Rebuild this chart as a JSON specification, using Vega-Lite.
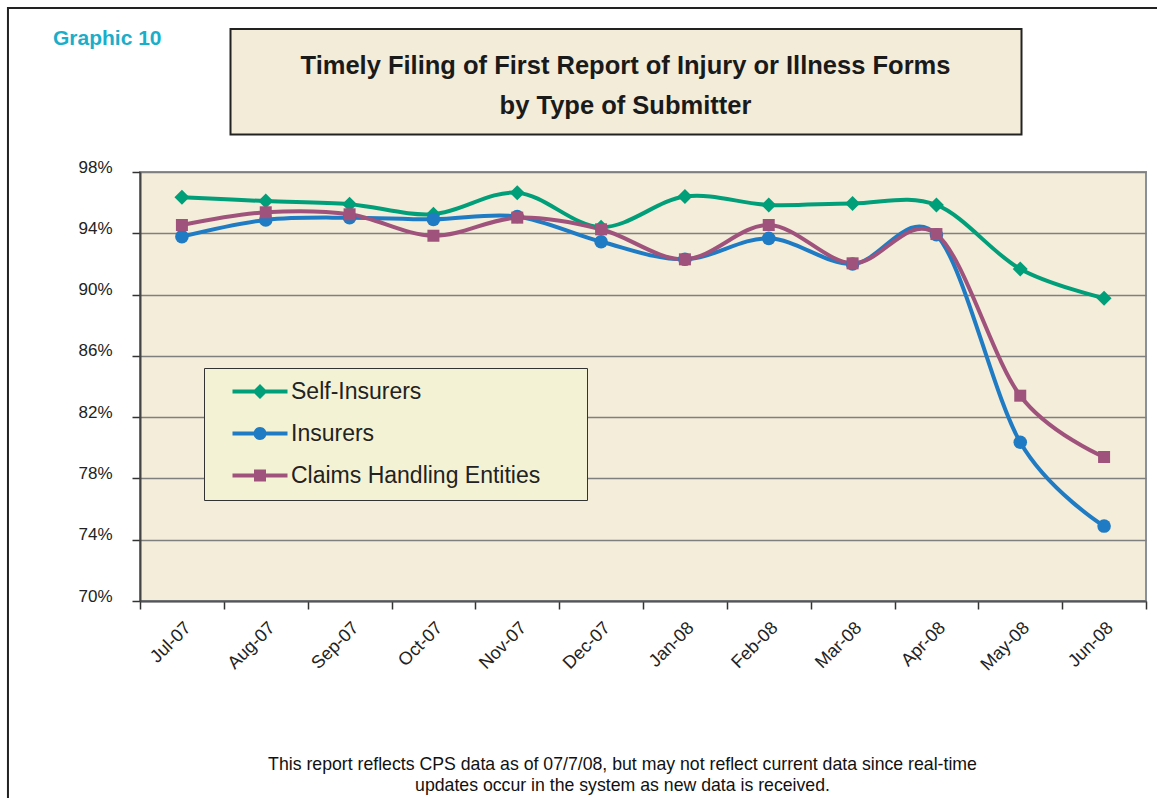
{
  "$schema": "https://vega.github.io/schema/vega-lite/v6.json",
  "width": 1006,
  "height": 429,
  "autosize": {"type": "none"},
  "padding": {"left": 140, "top": 172, "right": 11, "bottom": 197},
  "background": "white",
  "layer": [
    {
      "data": {"values": [{}]},
      "mark": {"type": "rect", "clip": false, "fill": null, "stroke": "#222222", "strokeWidth": 2},
      "encoding": {
        "x": {"datum": -2.075, "type": "quantitative", "scale": {"domain": [-0.5, 11.5], "nice": false, "zero": false}, "axis": null},
        "x2": {"datum": 13},
        "y": {"datum": 108.7, "type": "quantitative", "scale": {"domain": [70, 98], "nice": false, "zero": false}, "axis": null},
        "y2": {"datum": 40}
      }
    },
    {
      "data": {"values": [{}]},
      "mark": {"type": "rect", "clip": false, "fill": "#F3ECD8", "stroke": "#222222", "strokeWidth": 2},
      "encoding": {
        "x": {"datum": 0.5796, "type": "quantitative", "scale": {"domain": [-0.5, 11.5], "nice": false, "zero": false}, "axis": null},
        "x2": {"datum": 10.015},
        "y": {"datum": 107.33, "type": "quantitative", "scale": {"domain": [70, 98], "nice": false, "zero": false}, "axis": null},
        "y2": {"datum": 100.45}
      }
    },
    {
      "data": {"values": [{}]},
      "mark": {"type": "text", "clip": false, "text": ["Timely Filing of First Report of Injury or Illness Forms", "by Type of Submitter"], "font": "Liberation Sans", "fontSize": 25.5, "fontWeight": "bold", "color": "#1a1a1a", "align": "center", "baseline": "alphabetic", "lineHeight": 40},
      "encoding": {
        "x": {"datum": 5.291, "type": "quantitative", "scale": {"domain": [-0.5, 11.5], "nice": false, "zero": false}, "axis": null},
        "y": {"datum": 104.4, "type": "quantitative", "scale": {"domain": [70, 98], "nice": false, "zero": false}, "axis": null}
      }
    },
    {
      "data": {"values": [{}]},
      "mark": {"type": "text", "clip": false, "text": "Graphic 10", "font": "Liberation Sans", "fontSize": 21, "fontWeight": "bold", "color": "#1AAECB", "align": "left", "baseline": "alphabetic"},
      "encoding": {
        "x": {"datum": -1.538, "type": "quantitative", "scale": {"domain": [-0.5, 11.5], "nice": false, "zero": false}, "axis": null},
        "y": {"datum": 106.29, "type": "quantitative", "scale": {"domain": [70, 98], "nice": false, "zero": false}, "axis": null}
      }
    },
    {
      "data": {
        "values": [
          {"month": "Jul-07", "series": "Self-Insurers", "value": 96.35},
          {"month": "Aug-07", "series": "Self-Insurers", "value": 96.1},
          {"month": "Sep-07", "series": "Self-Insurers", "value": 95.9},
          {"month": "Oct-07", "series": "Self-Insurers", "value": 95.25},
          {"month": "Nov-07", "series": "Self-Insurers", "value": 96.65},
          {"month": "Dec-07", "series": "Self-Insurers", "value": 94.4},
          {"month": "Jan-08", "series": "Self-Insurers", "value": 96.4},
          {"month": "Feb-08", "series": "Self-Insurers", "value": 95.85},
          {"month": "Mar-08", "series": "Self-Insurers", "value": 95.95},
          {"month": "Apr-08", "series": "Self-Insurers", "value": 95.85},
          {"month": "May-08", "series": "Self-Insurers", "value": 91.67},
          {"month": "Jun-08", "series": "Self-Insurers", "value": 89.76},
          {"month": "Jul-07", "series": "Insurers", "value": 93.78},
          {"month": "Aug-07", "series": "Insurers", "value": 94.87},
          {"month": "Sep-07", "series": "Insurers", "value": 95.02},
          {"month": "Oct-07", "series": "Insurers", "value": 94.91},
          {"month": "Nov-07", "series": "Insurers", "value": 95.1},
          {"month": "Dec-07", "series": "Insurers", "value": 93.45},
          {"month": "Jan-08", "series": "Insurers", "value": 92.3},
          {"month": "Feb-08", "series": "Insurers", "value": 93.67},
          {"month": "Mar-08", "series": "Insurers", "value": 92.0},
          {"month": "Apr-08", "series": "Insurers", "value": 93.9},
          {"month": "May-08", "series": "Insurers", "value": 80.36},
          {"month": "Jun-08", "series": "Insurers", "value": 74.89},
          {"month": "Jul-07", "series": "Claims Handling Entities", "value": 94.54},
          {"month": "Aug-07", "series": "Claims Handling Entities", "value": 95.37},
          {"month": "Sep-07", "series": "Claims Handling Entities", "value": 95.24},
          {"month": "Oct-07", "series": "Claims Handling Entities", "value": 93.84},
          {"month": "Nov-07", "series": "Claims Handling Entities", "value": 95.02},
          {"month": "Dec-07", "series": "Claims Handling Entities", "value": 94.26},
          {"month": "Jan-08", "series": "Claims Handling Entities", "value": 92.3},
          {"month": "Feb-08", "series": "Claims Handling Entities", "value": 94.54},
          {"month": "Mar-08", "series": "Claims Handling Entities", "value": 92.04},
          {"month": "Apr-08", "series": "Claims Handling Entities", "value": 93.95},
          {"month": "May-08", "series": "Claims Handling Entities", "value": 83.4},
          {"month": "Jun-08", "series": "Claims Handling Entities", "value": 79.4}
        ]
      },
      "encoding": {
        "x": {
          "field": "month",
          "type": "ordinal",
          "sort": ["Jul-07", "Aug-07", "Sep-07", "Oct-07", "Nov-07", "Dec-07", "Jan-08", "Feb-08", "Mar-08", "Apr-08", "May-08", "Jun-08"],
          "bandPosition": 0.5,
          "scale": {"type": "band", "paddingInner": 0, "paddingOuter": 0},
          "axis": {
            "title": ["This report reflects CPS data as of 07/7/08, but may not reflect current data since real-time", "updates occur in the system as new data is received."],
            "titleFont": "Liberation Sans",
            "titleFontSize": 17.7,
            "titleFontWeight": "normal",
            "titleColor": "#111111",
            "titleX": 482,
            "titleY": 168,
            "titleAlign": "center",
            "titleAnchor": null,
            "titleBaseline": "alphabetic",
            "titleLineHeight": 21,
            "domainColor": "#555555",
            "domainWidth": 2,
            "tickColor": "#333333",
            "tickWidth": 1.5,
            "tickSize": 8,
            "tickBand": "extent",
            "labelAngle": -45,
            "labelAlign": "right",
            "labelBaseline": "middle",
            "labelFont": "Liberation Sans",
            "labelFontSize": 18,
            "labelColor": "#222222",
            "labelPadding": 16,
            "labelOffset": 6,
            "grid": false
          }
        },
        "y": {
          "field": "value",
          "type": "quantitative",
          "scale": {"domain": [70, 98], "nice": false, "zero": false},
          "axis": {
            "title": null,
            "values": [70, 74, 78, 82, 86, 90, 94, 98],
            "labelExpr": "datum.value + '%'",
            "labelFont": "Liberation Sans",
            "labelFontSize": 17,
            "labelColor": "#222222",
            "labelPadding": 20,
            "labelBaseline": "alphabetic",
            "tickSize": 8,
            "tickColor": "#333333",
            "tickWidth": 1.5,
            "domainColor": "#444444",
            "domainWidth": 2,
            "grid": true,
            "gridColor": "#7F7F7F",
            "gridWidth": 1.5
          }
        }
      },
      "layer": [
        {
          "mark": {"type": "line", "interpolate": "cardinal", "strokeWidth": 4},
          "encoding": {
            "color": {"field": "series", "type": "nominal", "scale": {"domain": ["Self-Insurers", "Insurers", "Claims Handling Entities"], "range": ["#009E79", "#1F7BC3", "#9F527B"]}, "legend": null}
          }
        },
        {
          "mark": {"type": "point", "filled": true, "opacity": 1},
          "encoding": {
            "color": {"field": "series", "type": "nominal", "scale": {"domain": ["Self-Insurers", "Insurers", "Claims Handling Entities"], "range": ["#009E79", "#1F7BC3", "#9F527B"]}, "legend": null},
            "shape": {"field": "series", "type": "nominal", "scale": {"domain": ["Self-Insurers", "Insurers", "Claims Handling Entities"], "range": ["diamond", "circle", "square"]}, "legend": null},
            "size": {"field": "series", "type": "nominal", "scale": {"domain": ["Self-Insurers", "Insurers", "Claims Handling Entities"], "range": [225, 144, 169]}, "legend": null}
          }
        },
        {
          "transform": [{"filter": "false"}],
          "mark": {"type": "point", "filled": true, "opacity": 1},
          "encoding": {
            "color": {
              "field": "series", "type": "nominal",
              "scale": {"domain": ["Self-Insurers", "Insurers", "Claims Handling Entities"], "range": ["#009E79", "#1F7BC3", "#9F527B"]},
              "legend": {"orient": "none", "legendX": 64, "legendY": 196, "title": null, "fillColor": "#F4F2D5", "strokeColor": "#333333", "padding": 12, "labelFont": "Liberation Sans", "labelFontSize": 23, "labelColor": "#222222", "labelOffset": 52, "labelLimit": 600, "labelExpr": "datum.label + '\u2800\u2800'", "symbolSize": 400, "symbolStrokeWidth": 0, "symbolOpacity": 1, "rowPadding": 18}
            },
            "shape": {
              "field": "series", "type": "nominal",
              "scale": {"domain": ["Self-Insurers", "Insurers", "Claims Handling Entities"], "range": [
                "M0.5,-0.2L6,-0.2L6,0.2L0.5,0.2Z M3.25,-0.75L4,0L3.25,0.75L2.5,0Z",
                "M0.5,-0.2L6,-0.2L6,0.2L0.5,0.2Z M3.9,0A0.65,0.65,0,1,1,2.6,0A0.65,0.65,0,1,1,3.9,0Z",
                "M0.5,-0.2L6,-0.2L6,0.2L0.5,0.2Z M2.65,-0.6L3.85,-0.6L3.85,0.6L2.65,0.6Z"
              ]},
              "legend": {"orient": "none", "legendX": 64, "legendY": 196, "title": null, "fillColor": "#F4F2D5", "strokeColor": "#333333", "padding": 12, "labelFont": "Liberation Sans", "labelFontSize": 23, "labelColor": "#222222", "labelOffset": 52, "labelLimit": 600, "labelExpr": "datum.label + '\u2800\u2800'", "symbolSize": 400, "symbolStrokeWidth": 0, "symbolOpacity": 1, "rowPadding": 18}
            }
          }
        }
      ],
      "resolve": {"scale": {"color": "independent", "shape": "independent", "size": "independent"}}
    }
  ],
  "resolve": {"scale": {"x": "independent", "y": "independent"}},
  "config": {
    "view": {"fill": "#F3EDDA", "stroke": "#8A9099", "strokeWidth": 2},
    "font": "Liberation Sans"
  }
}
